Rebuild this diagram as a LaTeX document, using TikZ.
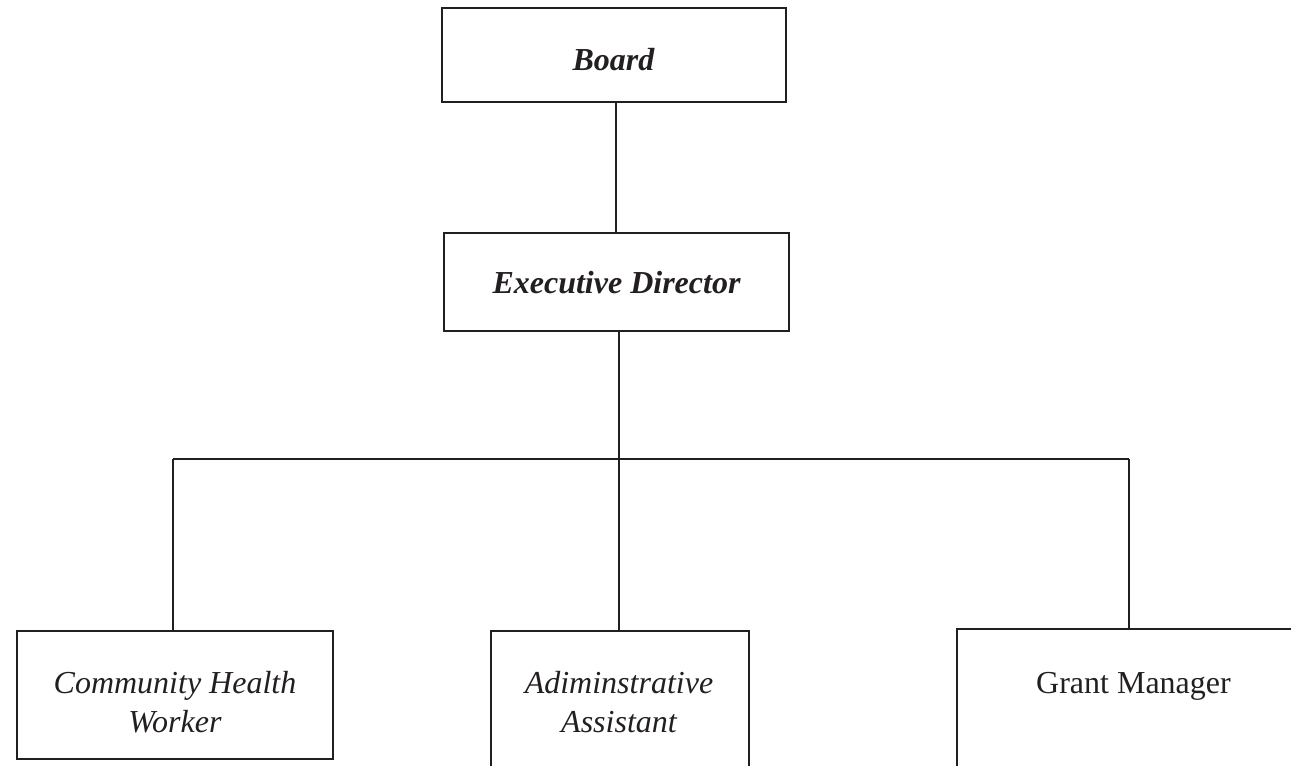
\documentclass[tikz,border=0pt]{standalone}
\usepackage{fontspec}
\setmainfont{Liberation Serif}
\usepackage{tikz}
\usetikzlibrary{positioning}
\definecolor{ink}{RGB}{35,31,32}

\begin{document}
\begin{tikzpicture}[x=0.5pt,y=-0.5pt,
	unit/.style={shape=rectangle,draw=ink,line width=1.3pt,inner sep=0pt},
	caption/.style={text=ink,font=\fontsize{16}{19.5}\selectfont,align=center,inner sep=0pt},
	title/.style={caption,font=\fontsize{16}{19.5}\selectfont\bfseries\itshape},
	link/.style={draw=ink,line width=1.1pt}]
	\useasboundingbox (0,0) rectangle (1291,766);

	% boxes
	\node[unit,minimum width=172pt,minimum height=47pt]   (board) at (614,55)     {};
	\node[unit,minimum width=172.5pt,minimum height=49pt] (exec)  at (616.5,282)  {};
	\node[unit,minimum width=158pt,minimum height=64pt]   (chw)   at (175,695)    {};
	\node[unit,minimum width=129pt,minimum height=84.5pt] (admin) at (620,715.5)  {};
	\node[unit,minimum width=176.5pt,minimum height=85.5pt] (grant) at (1133.5,714.5) {};

	% texts
	\node[title,anchor=base]    (boardtext) at (613.5,70)   {Board};
	\node[title,anchor=base]    (exectext)  at (616.5,293)  {Executive Director};
	\node[caption,anchor=north] (chwtext)   at (175,666)    {\strut\itshape Community Health\\\itshape Worker};
	\node[caption,anchor=north] (admintext) at (619,666)    {\strut\itshape Adiminstrative\\\itshape Assistant};
	\node[caption,anchor=north] (granttext) at (1133.5,666) {\strut Grant Manager};

	% connectors
	\coordinate (split)    at (619,459);
	\coordinate (barleft)  at (173,459);
	\coordinate (barright) at (1129,459);
	\coordinate (drop)     at (616,102);
	\draw[link] (drop) -- (drop |- exec.north);
	\draw[link] (split |- exec.south) -- (split);
	\draw[link] (barleft) -- (barright);
	\draw[link] (barleft) -- (barleft |- chw.north);
	\draw[link] (split) -- (split |- admin.north);
	\draw[link] (barright) -- (barright |- grant.north);
\end{tikzpicture}
\end{document}
